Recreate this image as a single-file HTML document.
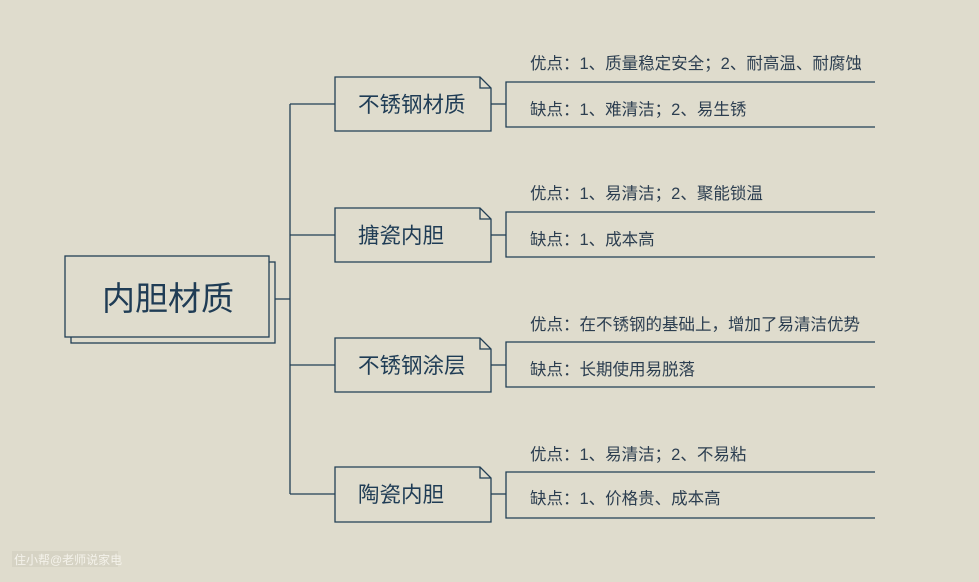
<!DOCTYPE html>
<html><head><meta charset="utf-8"><style>
html,body{margin:0;padding:0;background:#dfdccd;}
svg{display:block;font-family:"Liberation Sans","Noto Sans CJK SC",sans-serif;}
</style></head><body>
<svg width="979" height="582" viewBox="0 0 979 582">
<rect width="979" height="582" fill="#dfdccd"/>
<g stroke="#223f55" stroke-width="1.3" fill="none">
<rect x="71" y="262" width="204" height="81" fill="#dfdccd"/>
<rect x="65" y="256" width="204" height="81" fill="#dfdccd"/>
<line x1="275" y1="299" x2="290" y2="299"/>
<line x1="290" y1="104" x2="290" y2="494"/>
<line x1="290" y1="104" x2="335" y2="104"/>
<line x1="290" y1="235" x2="335" y2="235"/>
<line x1="290" y1="365" x2="335" y2="365"/>
<line x1="290" y1="494" x2="335" y2="494"/>
</g>
<text x="168" y="310" font-size="33" fill="#1f3c55" text-anchor="middle">内胆材质</text>
<g stroke="#223f55" stroke-width="1.3" fill="none">
<path d="M335 77 H480 L491 88 V131 H335 Z" fill="#dfdccd"/><path d="M480 77 V88 H491"/>
<line x1="491" y1="104" x2="506" y2="104"/>
<path d="M875 82 H506 V127 H875"/>
<path d="M335 208 H480 L491 219 V262 H335 Z" fill="#dfdccd"/><path d="M480 208 V219 H491"/>
<line x1="491" y1="235" x2="506" y2="235"/>
<path d="M875 212 H506 V257 H875"/>
<path d="M335 338 H480 L491 349 V392 H335 Z" fill="#dfdccd"/><path d="M480 338 V349 H491"/>
<line x1="491" y1="365" x2="506" y2="365"/>
<path d="M875 342 H506 V387 H875"/>
<path d="M335 467 H480 L491 478 V522 H335 Z" fill="#dfdccd"/><path d="M480 467 V478 H491"/>
<line x1="491" y1="494" x2="506" y2="494"/>
<path d="M875 472 H506 V518 H875"/>
</g>
<g font-size="21.5" fill="#1f3c55">
<text x="358" y="112">不锈钢材质</text>
<text x="358" y="243">搪瓷内胆</text>
<text x="358" y="373">不锈钢涂层</text>
<text x="358" y="502">陶瓷内胆</text>
</g>
<g font-size="16.5" fill="#2c3e50">
<text x="530" y="69">优点：1、质量稳定安全；2、耐高温、耐腐蚀</text>
<text x="530" y="115">缺点：1、难清洁；2、易生锈</text>
<text x="530" y="199">优点：1、易清洁；2、聚能锁温</text>
<text x="530" y="245">缺点：1、成本高</text>
<text x="530" y="330">优点：在不锈钢的基础上，增加了易清洁优势</text>
<text x="530" y="375">缺点：长期使用易脱落</text>
<text x="530" y="460">优点：1、易清洁；2、不易粘</text>
<text x="530" y="504">缺点：1、价格贵、成本高</text>
</g>
<rect x="12" y="551" width="106" height="16" fill="#d2cfc0" opacity="0.7"/>
<text x="14" y="564" font-size="12" fill="#f4f2ea">住小帮@老师说家电</text>
</svg>
</body></html>
